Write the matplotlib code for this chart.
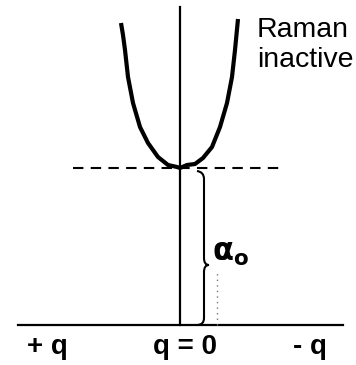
import matplotlib
matplotlib.use('Agg')

import matplotlib.pyplot as plt
from matplotlib.path import Path
from matplotlib.patches import PathPatch

#=====Data (q in px from q=0, energy in px above baseline)=====
curve_q = [-59, -57, -55, -52, -47, -40, -32, -22, -12, -3, 0,
           7, 15, 23, 32, 40, 47, 52, 55, 58]
curve_e = [302, 290, 275, 248, 222, 198, 182, 168, 160, 158, 157,
           160, 161, 167, 178, 198, 222, 248, 275, 306]
alpha0 = 157
q_labels = ['+ q', 'q = 0', '- q']
q_label_pos = [-133, 5, 130]
#===============================================================

fig = plt.figure(figsize=(3.56, 3.65), dpi=100)
ax = fig.add_axes([0, 0, 1, 1])
ax.set_xlim(-180, 176)
ax.set_ylim(-40, 325)
ax.axis('off')

# baseline and q=0 axis
ax.plot([-162, 163], [0, 0], color='black', lw=1.6)
ax.plot([0, 0], [0, 318], color='black', lw=1.6)

# dashed level at alpha0
ax.plot([-107, 103], [alpha0, alpha0], color='black', lw=1.5,
        linestyle=(0, (5, 3.5)))

# faint dotted line
ax.plot([37, 37], [0, 55], color='#777777', lw=1, linestyle=(0, (1, 3)))

# dispersion curve
ax.plot(curve_q, curve_e, color='black', lw=3,
        solid_capstyle='butt', solid_joinstyle='round')

# curly brace from baseline to alpha0
tip = 60
verts = [(17, alpha0 - 3), (24, alpha0 - 4), (24, alpha0 - 11),
         (24, tip + 7),
         (24, tip), (29, tip),
         (24, tip), (24, tip - 7),
         (24, 7),
         (24, 0), (17, 0)]
codes = [Path.MOVETO, Path.CURVE3, Path.CURVE3,
         Path.LINETO,
         Path.CURVE3, Path.CURVE3,
         Path.CURVE3, Path.CURVE3,
         Path.LINETO,
         Path.CURVE3, Path.CURVE3]
ax.add_patch(PathPatch(Path(verts, codes), fill=False, color='black', lw=1.5))

ax.text(32, 72, r'$\mathbf{\alpha_o}$', fontsize=22, ha='left', va='center')

ax.text(77, 308, 'Raman\ninactive', fontsize=20.5, family='Liberation Sans',
        ha='left', va='top', linespacing=1.2)

for lab, x in zip(q_labels, q_label_pos):
    ax.text(x, -22, lab, fontsize=20, fontweight='bold', family='Liberation Sans',
            ha='center', va='center')

plt.savefig('out.png', dpi=100)
